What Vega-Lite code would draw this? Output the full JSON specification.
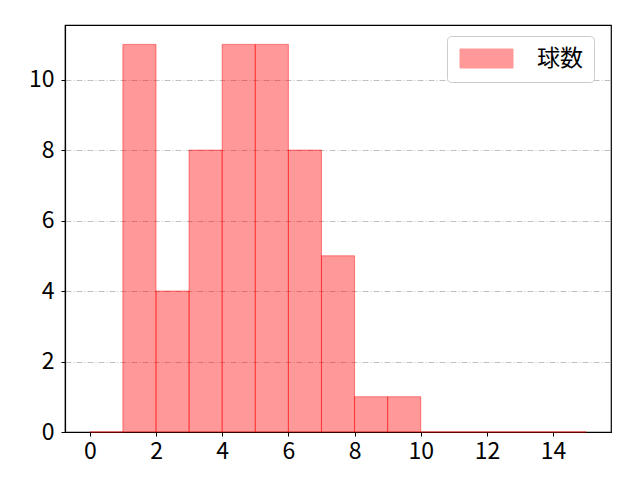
{
  "$schema": "https://vega.github.io/schema/vega-lite/v6.json",
  "autosize": "none",
  "width": 546,
  "height": 407,
  "padding": {"left": 65, "top": 25, "right": 29, "bottom": 48},
  "background": "white",
  "config": {
    "font": "Noto Sans CJK JP",
    "view": {"stroke": "black", "strokeWidth": 1.2},
    "axis": {
      "domainColor": "black",
      "domainWidth": 1.2,
      "tickColor": "black",
      "tickSize": 4,
      "tickWidth": 1,
      "labelColor": "black",
      "labelFontSize": 23,
      "labelFont": "Noto Sans CJK JP",
      "title": null
    },
    "legend": {
      "labelFontSize": 23,
      "labelFont": "Noto Sans CJK JP",
      "labelColor": "black"
    }
  },
  "data": {
    "values": [
      {"bin_start": 0, "bin_end": 1, "count": 0, "series": "球数"},
      {"bin_start": 1, "bin_end": 2, "count": 11, "series": "球数"},
      {"bin_start": 2, "bin_end": 3, "count": 4, "series": "球数"},
      {"bin_start": 3, "bin_end": 4, "count": 8, "series": "球数"},
      {"bin_start": 4, "bin_end": 5, "count": 11, "series": "球数"},
      {"bin_start": 5, "bin_end": 6, "count": 11, "series": "球数"},
      {"bin_start": 6, "bin_end": 7, "count": 8, "series": "球数"},
      {"bin_start": 7, "bin_end": 8, "count": 5, "series": "球数"},
      {"bin_start": 8, "bin_end": 9, "count": 1, "series": "球数"},
      {"bin_start": 9, "bin_end": 10, "count": 1, "series": "球数"},
      {"bin_start": 10, "bin_end": 11, "count": 0, "series": "球数"},
      {"bin_start": 11, "bin_end": 12, "count": 0, "series": "球数"},
      {"bin_start": 12, "bin_end": 13, "count": 0, "series": "球数"},
      {"bin_start": 13, "bin_end": 14, "count": 0, "series": "球数"},
      {"bin_start": 14, "bin_end": 15, "count": 0, "series": "球数"}
    ]
  },
  "mark": {
    "type": "rect",
    "fillOpacity": 0.4,
    "stroke": "red",
    "strokeOpacity": 0.45,
    "strokeWidth": 1
  },
  "encoding": {
    "x": {
      "field": "bin_start",
      "type": "quantitative",
      "scale": {"domain": [-0.75, 15.75], "nice": false, "zero": false},
      "axis": {"values": [0, 2, 4, 6, 8, 10, 12, 14], "grid": false, "labelFlush": false, "labelPadding": 4}
    },
    "x2": {"field": "bin_end"},
    "y": {
      "field": "count",
      "type": "quantitative",
      "scale": {"domain": [0, 11.55], "nice": false},
      "axis": {
        "values": [0, 2, 4, 6, 8, 10],
        "grid": true,
        "gridColor": "#b0b0b0",
        "gridWidth": 0.8,
        "gridDash": [6, 2, 1, 2],
        "labelFlush": false,
        "labelPadding": 7
      }
    },
    "y2": {"datum": 0},
    "color": {
      "field": "series",
      "type": "nominal",
      "scale": {"range": ["red"]},
      "legend": {
        "title": null,
        "orient": "none",
        "legendX": 382,
        "legendY": 11,
        "symbolType": "M-1,-1H4.58V1H-1Z",
        "symbolSize": 361,
        "symbolOpacity": 0.4,
        "symbolStrokeWidth": 1,
        "labelOffset": 56,
        "padding": 11,
        "strokeColor": "#cccccc",
        "fillColor": "white",
        "cornerRadius": 4
      }
    }
  }
}
